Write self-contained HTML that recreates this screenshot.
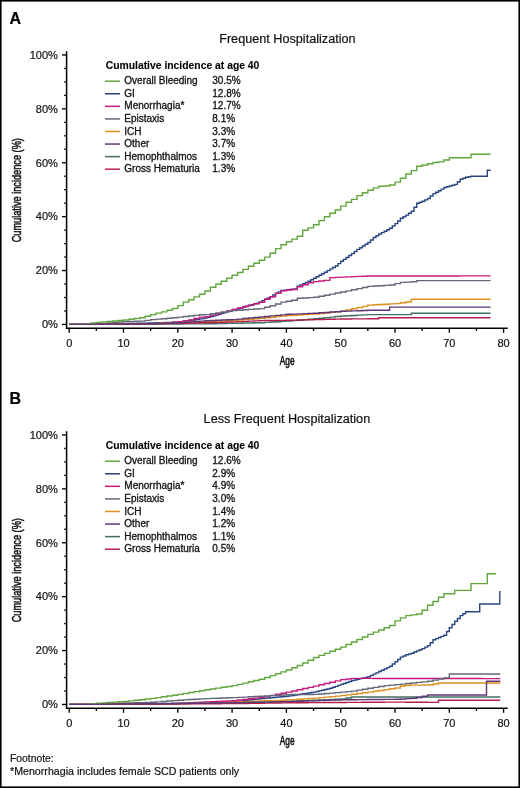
<!DOCTYPE html>
<html><head><meta charset="utf-8">
<style>
html,body{margin:0;padding:0;background:#fff;}
svg{display:block;will-change:transform;}
text{font-family:"Liberation Sans",sans-serif;fill:#111;stroke:#111;stroke-width:0.2px;}
.cond{stroke-width:0.55px;}
</style></head>
<body>
<svg width="520" height="788" viewBox="0 0 520 788">
<rect x="0" y="0" width="520" height="788" fill="#fff"/>
<text x="9.6" y="23.5" font-size="16" font-weight="bold" style="fill:#000;stroke:#000;stroke-width:0.2px">A</text>
<text x="219.2" y="43.2" font-size="12.65" textLength="136.4" lengthAdjust="spacingAndGlyphs">Frequent Hospitalization</text>
<line x1="66.6" y1="51.2" x2="66.6" y2="329" stroke="#000" stroke-width="1.5"/>
<line x1="65.9" y1="328.2" x2="507.7" y2="328.2" stroke="#000" stroke-width="1.5"/>
<line x1="62" y1="324.45" x2="66.6" y2="324.45" stroke="#000" stroke-width="1.35"/>
<text x="57.9" y="328.25" font-size="11" text-anchor="end">0%</text>
<line x1="64.2" y1="310.97" x2="66.6" y2="310.97" stroke="#000" stroke-width="1.35"/>
<line x1="64.2" y1="297.50" x2="66.6" y2="297.50" stroke="#000" stroke-width="1.35"/>
<line x1="64.2" y1="284.02" x2="66.6" y2="284.02" stroke="#000" stroke-width="1.35"/>
<line x1="62" y1="270.55" x2="66.6" y2="270.55" stroke="#000" stroke-width="1.35"/>
<text x="57.9" y="274.35" font-size="11" text-anchor="end">20%</text>
<line x1="64.2" y1="257.07" x2="66.6" y2="257.07" stroke="#000" stroke-width="1.35"/>
<line x1="64.2" y1="243.60" x2="66.6" y2="243.60" stroke="#000" stroke-width="1.35"/>
<line x1="64.2" y1="230.12" x2="66.6" y2="230.12" stroke="#000" stroke-width="1.35"/>
<line x1="62" y1="216.65" x2="66.6" y2="216.65" stroke="#000" stroke-width="1.35"/>
<text x="57.9" y="220.45" font-size="11" text-anchor="end">40%</text>
<line x1="64.2" y1="203.18" x2="66.6" y2="203.18" stroke="#000" stroke-width="1.35"/>
<line x1="64.2" y1="189.70" x2="66.6" y2="189.70" stroke="#000" stroke-width="1.35"/>
<line x1="64.2" y1="176.22" x2="66.6" y2="176.22" stroke="#000" stroke-width="1.35"/>
<line x1="62" y1="162.75" x2="66.6" y2="162.75" stroke="#000" stroke-width="1.35"/>
<text x="57.9" y="166.55" font-size="11" text-anchor="end">60%</text>
<line x1="64.2" y1="149.28" x2="66.6" y2="149.28" stroke="#000" stroke-width="1.35"/>
<line x1="64.2" y1="135.80" x2="66.6" y2="135.80" stroke="#000" stroke-width="1.35"/>
<line x1="64.2" y1="122.32" x2="66.6" y2="122.32" stroke="#000" stroke-width="1.35"/>
<line x1="62" y1="108.85" x2="66.6" y2="108.85" stroke="#000" stroke-width="1.35"/>
<text x="57.9" y="112.65" font-size="11" text-anchor="end">80%</text>
<line x1="64.2" y1="95.38" x2="66.6" y2="95.38" stroke="#000" stroke-width="1.35"/>
<line x1="64.2" y1="81.90" x2="66.6" y2="81.90" stroke="#000" stroke-width="1.35"/>
<line x1="64.2" y1="68.43" x2="66.6" y2="68.43" stroke="#000" stroke-width="1.35"/>
<line x1="62" y1="54.95" x2="66.6" y2="54.95" stroke="#000" stroke-width="1.35"/>
<text x="57.9" y="58.75" font-size="11" text-anchor="end">100%</text>
<line x1="69.20" y1="328.2" x2="69.20" y2="332.8" stroke="#000" stroke-width="1.35"/>
<text x="69.20" y="346.7" font-size="11" text-anchor="middle">0</text>
<line x1="96.35" y1="328.2" x2="96.35" y2="330.9" stroke="#000" stroke-width="1.35"/>
<line x1="123.50" y1="328.2" x2="123.50" y2="332.8" stroke="#000" stroke-width="1.35"/>
<text x="123.50" y="346.7" font-size="11" text-anchor="middle">10</text>
<line x1="150.65" y1="328.2" x2="150.65" y2="330.9" stroke="#000" stroke-width="1.35"/>
<line x1="177.80" y1="328.2" x2="177.80" y2="332.8" stroke="#000" stroke-width="1.35"/>
<text x="177.80" y="346.7" font-size="11" text-anchor="middle">20</text>
<line x1="204.95" y1="328.2" x2="204.95" y2="330.9" stroke="#000" stroke-width="1.35"/>
<line x1="232.10" y1="328.2" x2="232.10" y2="332.8" stroke="#000" stroke-width="1.35"/>
<text x="232.10" y="346.7" font-size="11" text-anchor="middle">30</text>
<line x1="259.25" y1="328.2" x2="259.25" y2="330.9" stroke="#000" stroke-width="1.35"/>
<line x1="286.40" y1="328.2" x2="286.40" y2="332.8" stroke="#000" stroke-width="1.35"/>
<text x="286.40" y="346.7" font-size="11" text-anchor="middle">40</text>
<line x1="313.55" y1="328.2" x2="313.55" y2="330.9" stroke="#000" stroke-width="1.35"/>
<line x1="340.70" y1="328.2" x2="340.70" y2="332.8" stroke="#000" stroke-width="1.35"/>
<text x="340.70" y="346.7" font-size="11" text-anchor="middle">50</text>
<line x1="367.85" y1="328.2" x2="367.85" y2="330.9" stroke="#000" stroke-width="1.35"/>
<line x1="395.00" y1="328.2" x2="395.00" y2="332.8" stroke="#000" stroke-width="1.35"/>
<text x="395.00" y="346.7" font-size="11" text-anchor="middle">60</text>
<line x1="422.15" y1="328.2" x2="422.15" y2="330.9" stroke="#000" stroke-width="1.35"/>
<line x1="449.30" y1="328.2" x2="449.30" y2="332.8" stroke="#000" stroke-width="1.35"/>
<text x="449.30" y="346.7" font-size="11" text-anchor="middle">70</text>
<line x1="476.45" y1="328.2" x2="476.45" y2="330.9" stroke="#000" stroke-width="1.35"/>
<line x1="503.60" y1="328.2" x2="503.60" y2="332.8" stroke="#000" stroke-width="1.35"/>
<text x="503.60" y="346.7" font-size="11" text-anchor="middle">80</text>
<text x="279.8" y="364.7" class="cond" font-size="12" textLength="14.7" lengthAdjust="spacingAndGlyphs">Age</text>
<text transform="translate(21.2,242.3) rotate(-90)" x="0" y="0" class="cond" font-size="13" textLength="104.2" lengthAdjust="spacingAndGlyphs">Cumulative incidence (%)</text>
<text x="105.7" y="68.6" font-size="10.3" font-weight="bold" style="fill:#000;stroke-width:0.1px" textLength="153.7" lengthAdjust="spacingAndGlyphs">Cumulative incidence at age 40</text>
<line x1="105" y1="81.20" x2="120" y2="81.20" stroke="#62a63e" stroke-width="1.5"/>
<text x="124.3" y="84.30" font-size="10" style="stroke-width:0.3px">Overall Bleeding</text>
<text x="212.3" y="84.30" font-size="10" style="stroke-width:0.3px">30.5%</text>
<line x1="105" y1="93.77" x2="120" y2="93.77" stroke="#2a4682" stroke-width="1.5"/>
<text x="124.3" y="96.87" font-size="10" style="stroke-width:0.3px">GI</text>
<text x="212.3" y="96.87" font-size="10" style="stroke-width:0.3px">12.8%</text>
<line x1="105" y1="106.34" x2="120" y2="106.34" stroke="#c8187f" stroke-width="1.5"/>
<text x="124.3" y="109.44" font-size="10" style="stroke-width:0.3px">Menorrhagia*</text>
<text x="212.3" y="109.44" font-size="10" style="stroke-width:0.3px">12.7%</text>
<line x1="105" y1="118.91" x2="120" y2="118.91" stroke="#626878" stroke-width="1.5"/>
<text x="124.3" y="122.01" font-size="10" style="stroke-width:0.3px">Epistaxis</text>
<text x="212.3" y="122.01" font-size="10" style="stroke-width:0.3px">8.1%</text>
<line x1="105" y1="131.48" x2="120" y2="131.48" stroke="#de8f1e" stroke-width="1.5"/>
<text x="124.3" y="134.58" font-size="10" style="stroke-width:0.3px">ICH</text>
<text x="212.3" y="134.58" font-size="10" style="stroke-width:0.3px">3.3%</text>
<line x1="105" y1="144.05" x2="120" y2="144.05" stroke="#5e3876" stroke-width="1.5"/>
<text x="124.3" y="147.15" font-size="10" style="stroke-width:0.3px">Other</text>
<text x="212.3" y="147.15" font-size="10" style="stroke-width:0.3px">3.7%</text>
<line x1="105" y1="156.62" x2="120" y2="156.62" stroke="#437060" stroke-width="1.5"/>
<text x="124.3" y="159.72" font-size="10" style="stroke-width:0.3px">Hemophthalmos</text>
<text x="212.3" y="159.72" font-size="10" style="stroke-width:0.3px">1.3%</text>
<line x1="105" y1="169.19" x2="120" y2="169.19" stroke="#b51f48" stroke-width="1.5"/>
<text x="124.3" y="172.29" font-size="10" style="stroke-width:0.3px">Gross Hematuria</text>
<text x="212.3" y="172.29" font-size="10" style="stroke-width:0.3px">1.3%</text>
<path d="M69.20,324.40 L71.92,324.40 L71.92,324.40 L74.63,324.40 L74.63,324.40 L77.34,324.40 L77.34,324.40 L80.06,324.40 L80.06,324.40 L82.78,324.40 L82.78,324.40 L85.49,324.40 L85.49,324.40 L88.20,324.40 L88.20,324.34 L90.92,324.34 L90.92,324.29 L93.64,324.29 L93.64,324.23 L96.35,324.23 L96.35,324.17 L99.06,324.17 L99.06,324.11 L101.78,324.11 L101.78,324.06 L104.50,324.06 L104.50,324.00 L107.21,324.00 L107.21,323.94 L109.92,323.94 L109.92,323.89 L112.64,323.89 L112.64,323.83 L115.36,323.83 L115.36,323.77 L118.07,323.77 L118.07,323.71 L120.78,323.71 L120.78,323.66 L123.50,323.66 L123.50,323.60 L126.22,323.60 L126.22,323.54 L128.93,323.54 L128.93,323.48 L131.64,323.48 L131.64,323.42 L134.36,323.42 L134.36,323.36 L137.07,323.36 L137.07,323.30 L139.79,323.30 L139.79,323.24 L142.50,323.24 L142.50,323.18 L145.22,323.18 L145.22,323.12 L147.94,323.12 L147.94,323.06 L150.65,323.06 L150.65,323.00 L153.37,323.00 L153.37,322.91 L156.08,322.91 L156.08,322.82 L158.80,322.82 L158.80,322.73 L161.51,322.73 L161.51,322.64 L164.22,322.64 L164.22,322.55 L166.94,322.55 L166.94,322.46 L169.66,322.46 L169.66,322.37 L172.37,322.37 L172.37,322.28 L175.08,322.28 L175.08,322.19 L177.80,322.19 L177.80,322.10 L180.51,322.10 L180.51,321.70 L183.23,321.70 L183.23,321.30 L185.94,321.30 L185.94,320.90 L188.66,320.90 L188.66,320.50 L191.38,320.50 L191.38,320.10 L194.09,320.10 L194.09,319.70 L196.81,319.70 L196.81,319.30 L199.52,319.30 L199.52,318.90 L202.24,318.90 L202.24,318.50 L204.95,318.50 L204.95,318.10 L207.67,318.10 L207.67,317.32 L210.38,317.32 L210.38,316.54 L213.09,316.54 L213.09,315.76 L215.81,315.76 L215.81,314.98 L218.52,314.98 L218.52,314.20 L221.24,314.20 L221.24,313.42 L223.95,313.42 L223.95,312.64 L226.67,312.64 L226.67,311.86 L229.38,311.86 L229.38,311.08 L232.10,311.08 L232.10,310.30 L234.81,310.30 L234.81,309.50 L237.53,309.50 L237.53,308.70 L240.25,308.70 L240.25,307.90 L242.96,307.90 L242.96,307.10 L245.68,307.10 L245.68,306.30 L248.39,306.30 L248.39,305.50 L251.11,305.50 L251.11,304.70 L253.82,304.70 L253.82,303.90 L256.53,303.90 L256.53,303.10 L259.25,303.10 L259.25,302.30 L261.96,302.30 L261.96,300.80 L264.68,300.80 L264.68,299.30 L267.39,299.30 L267.39,298.05 L270.11,298.05 L270.11,296.80 L272.82,296.80 L272.82,295.00 L275.54,295.00 L275.54,293.20 L278.25,293.20 L278.25,291.85 L280.97,291.85 L280.97,290.50 L283.69,290.50 L283.69,290.18 L286.40,290.18 L286.40,289.86 L289.12,289.86 L289.12,289.55 L291.83,289.55 L291.83,289.23 L294.55,289.23 L294.55,288.91 L297.26,288.91 L297.26,286.30 L299.97,286.30 L299.97,285.03 L302.69,285.03 L302.69,283.75 L305.40,283.75 L305.40,282.47 L308.12,282.47 L308.12,281.20 L310.83,281.20 L310.83,279.75 L313.55,279.75 L313.55,278.30 L316.26,278.30 L316.26,276.80 L318.98,276.80 L318.98,275.30 L321.69,275.30 L321.69,273.75 L324.41,273.75 L324.41,272.20 L327.12,272.20 L327.12,270.65 L329.84,270.65 L329.84,269.10 L332.55,269.10 L332.55,267.55 L335.27,267.55 L335.27,266.00 L337.98,266.00 L337.98,263.65 L340.70,263.65 L340.70,261.30 L343.41,261.30 L343.41,259.40 L346.13,259.40 L346.13,257.50 L348.84,257.50 L348.84,255.55 L351.56,255.55 L351.56,253.60 L354.27,253.60 L354.27,251.50 L356.99,251.50 L356.99,249.40 L359.70,249.40 L359.70,247.70 L362.42,247.70 L362.42,246.00 L365.13,246.00 L365.13,244.25 L367.85,244.25 L367.85,242.50 L370.56,242.50 L370.56,240.00 L373.28,240.00 L373.28,237.50 L375.99,237.50 L375.99,235.75 L378.71,235.75 L378.71,234.00 L381.42,234.00 L381.42,232.65 L384.14,232.65 L384.14,231.30 L386.85,231.30 L386.85,229.80 L389.57,229.80 L389.57,228.30 L392.28,228.30 L392.28,225.95 L395.00,225.95 L395.00,223.60 L397.71,223.60 L397.71,220.95 L400.43,220.95 L400.43,218.30 L403.14,218.30 L403.14,216.70 L405.86,216.70 L405.86,215.10 L408.57,215.10 L408.57,213.20 L411.29,213.20 L411.29,211.30 L414.00,211.30 L414.00,207.30 L416.72,207.30 L416.72,203.30 L419.43,203.30 L419.43,202.30 L422.15,202.30 L422.15,201.30 L424.86,201.30 L424.86,199.90 L427.58,199.90 L427.58,198.50 L430.29,198.50 L430.29,196.05 L433.01,196.05 L433.01,193.60 L435.72,193.60 L435.72,192.20 L438.44,192.20 L438.44,190.80 L441.15,190.80 L441.15,189.15 L443.87,189.15 L443.87,187.50 L446.58,187.50 L446.58,186.75 L449.30,186.75 L449.30,186.00 L452.01,186.00 L452.01,185.20 L454.73,185.20 L454.73,184.40 L457.44,184.40 L457.44,181.80 L460.16,181.80 L460.16,179.20 L462.87,179.20 L462.87,178.25 L465.59,178.25 L465.59,177.30 L468.30,177.30 L468.30,176.80 L471.02,176.80 L471.02,176.30 L473.73,176.30 L473.73,176.30 L476.45,176.30 L476.45,176.30 L479.16,176.30 L479.16,176.30 L481.88,176.30 L481.88,176.30 L484.59,176.30 L484.59,176.30 L487.31,176.30 L487.31,170.20 L490.02,170.20 L490.02,170.20 L490.57,170.20" fill="none" stroke="#2a4682" stroke-width="1.4" stroke-linejoin="miter"/>
<path d="M69.20,324.40 L74.63,324.40 L74.63,324.40 L80.06,324.40 L80.06,324.40 L85.49,324.40 L85.49,324.40 L90.92,324.40 L90.92,324.37 L96.35,324.37 L96.35,324.33 L101.78,324.33 L101.78,324.30 L107.21,324.30 L107.21,324.27 L112.64,324.27 L112.64,324.23 L118.07,324.23 L118.07,324.20 L123.50,324.20 L123.50,324.17 L128.93,324.17 L128.93,324.13 L134.36,324.13 L134.36,324.10 L139.79,324.10 L139.79,324.07 L145.22,324.07 L145.22,324.03 L150.65,324.03 L150.65,324.00 L156.08,324.00 L156.08,323.63 L161.51,323.63 L161.51,323.27 L166.94,323.27 L166.94,322.90 L172.37,322.90 L172.37,322.30 L177.80,322.30 L177.80,321.70 L183.23,321.70 L183.23,320.85 L188.66,320.85 L188.66,320.00 L194.09,320.00 L194.09,318.55 L199.52,318.55 L199.52,317.10 L204.95,317.10 L204.95,316.60 L210.38,316.60 L210.38,315.16 L215.81,315.16 L215.81,313.72 L221.24,313.72 L221.24,312.28 L226.67,312.28 L226.67,310.84 L232.10,310.84 L232.10,309.40 L237.53,309.40 L237.53,307.98 L242.96,307.98 L242.96,306.56 L248.39,306.56 L248.39,305.14 L253.82,305.14 L253.82,303.72 L259.25,303.72 L259.25,302.30 L264.68,302.30 L264.68,299.30 L270.11,299.30 L270.11,296.80 L275.54,296.80 L275.54,293.40 L280.97,293.40 L280.97,290.70 L286.40,290.70 L286.40,290.06 L291.83,290.06 L291.83,289.43 L297.26,289.43 L297.26,286.80 L302.69,286.80 L302.69,284.80 L308.12,284.80 L308.12,282.80 L313.55,282.80 L313.55,281.60 L318.98,281.60 L318.98,281.00 L324.41,281.00 L324.41,280.40 L329.84,280.40 L329.84,277.60 L335.27,277.60 L335.27,277.35 L340.70,277.35 L340.70,277.10 L346.13,277.10 L346.13,276.85 L351.56,276.85 L351.56,276.60 L356.99,276.60 L356.99,276.40 L362.42,276.40 L362.42,276.20 L367.85,276.20 L367.85,276.00 L373.28,276.00 L373.28,276.00 L378.71,276.00 L378.71,275.99 L384.14,275.99 L384.14,275.99 L389.57,275.99 L389.57,275.98 L395.00,275.98 L395.00,275.98 L400.43,275.98 L400.43,275.97 L405.86,275.97 L405.86,275.97 L411.29,275.97 L411.29,275.96 L416.72,275.96 L416.72,275.96 L422.15,275.96 L422.15,275.96 L427.58,275.96 L427.58,275.95 L433.01,275.95 L433.01,275.95 L438.44,275.95 L438.44,275.94 L443.87,275.94 L443.87,275.94 L449.30,275.94 L449.30,275.93 L454.73,275.93 L454.73,275.93 L460.16,275.93 L460.16,275.92 L465.59,275.92 L465.59,275.92 L471.02,275.92 L471.02,275.92 L476.45,275.92 L476.45,275.91 L481.88,275.91 L481.88,275.91 L487.31,275.91 L487.31,275.90 L490.57,275.90" fill="none" stroke="#c8187f" stroke-width="1.4" stroke-linejoin="miter"/>
<path d="M69.20,324.40 L74.63,324.40 L74.63,324.40 L80.06,324.40 L80.06,324.40 L85.49,324.40 L85.49,324.40 L90.92,324.40 L90.92,324.10 L96.35,324.10 L96.35,323.80 L101.78,323.80 L101.78,323.36 L107.21,323.36 L107.21,322.92 L112.64,322.92 L112.64,322.48 L118.07,322.48 L118.07,322.04 L123.50,322.04 L123.50,321.60 L128.93,321.60 L128.93,321.43 L134.36,321.43 L134.36,321.27 L139.79,321.27 L139.79,321.10 L145.22,321.10 L145.22,320.35 L150.65,320.35 L150.65,319.60 L156.08,319.60 L156.08,319.17 L161.51,319.17 L161.51,318.73 L166.94,318.73 L166.94,318.30 L172.37,318.30 L172.37,317.70 L177.80,317.70 L177.80,317.10 L183.23,317.10 L183.23,316.50 L188.66,316.50 L188.66,315.93 L194.09,315.93 L194.09,315.37 L199.52,315.37 L199.52,314.80 L204.95,314.80 L204.95,314.60 L210.38,314.60 L210.38,313.80 L215.81,313.80 L215.81,313.00 L221.24,313.00 L221.24,312.20 L226.67,312.20 L226.67,311.40 L232.10,311.40 L232.10,310.60 L237.53,310.60 L237.53,310.20 L242.96,310.20 L242.96,309.80 L248.39,309.80 L248.39,309.40 L253.82,309.40 L253.82,309.00 L259.25,309.00 L259.25,308.60 L264.68,308.60 L264.68,307.20 L270.11,307.20 L270.11,305.80 L275.54,305.80 L275.54,303.95 L280.97,303.95 L280.97,302.10 L286.40,302.10 L286.40,301.20 L291.83,301.20 L291.83,300.30 L297.26,300.30 L297.26,298.30 L302.69,298.30 L302.69,297.97 L308.12,297.97 L308.12,297.63 L313.55,297.63 L313.55,297.30 L318.98,297.30 L318.98,296.24 L324.41,296.24 L324.41,295.18 L329.84,295.18 L329.84,294.12 L335.27,294.12 L335.27,293.06 L340.70,293.06 L340.70,292.00 L346.13,292.00 L346.13,290.88 L351.56,290.88 L351.56,289.76 L356.99,289.76 L356.99,288.64 L362.42,288.64 L362.42,287.52 L367.85,287.52 L367.85,286.40 L373.28,286.40 L373.28,286.05 L378.71,286.05 L378.71,285.70 L384.14,285.70 L384.14,285.35 L389.57,285.35 L389.57,285.00 L395.00,285.00 L395.00,283.60 L400.43,283.60 L400.43,282.40 L405.86,282.40 L405.86,282.10 L411.29,282.10 L411.29,281.80 L416.72,281.80 L416.72,280.60 L422.15,280.60 L422.15,280.60 L427.58,280.60 L427.58,280.60 L433.01,280.60 L433.01,280.60 L438.44,280.60 L438.44,280.60 L443.87,280.60 L443.87,280.60 L449.30,280.60 L449.30,280.60 L454.73,280.60 L454.73,280.60 L460.16,280.60 L460.16,280.60 L465.59,280.60 L465.59,280.60 L471.02,280.60 L471.02,280.60 L476.45,280.60 L476.45,280.60 L481.88,280.60 L481.88,280.60 L487.31,280.60 L487.31,280.60 L490.57,280.60" fill="none" stroke="#626878" stroke-width="1.4" stroke-linejoin="miter"/>
<path d="M69.20,324.40 L74.63,324.40 L74.63,324.40 L80.06,324.40 L80.06,324.40 L85.49,324.40 L85.49,324.40 L90.92,324.40 L90.92,324.33 L96.35,324.33 L96.35,324.27 L101.78,324.27 L101.78,324.20 L107.21,324.20 L107.21,324.13 L112.64,324.13 L112.64,324.07 L118.07,324.07 L118.07,324.00 L123.50,324.00 L123.50,323.93 L128.93,323.93 L128.93,323.87 L134.36,323.87 L134.36,323.80 L139.79,323.80 L139.79,323.73 L145.22,323.73 L145.22,323.67 L150.65,323.67 L150.65,323.60 L156.08,323.60 L156.08,323.44 L161.51,323.44 L161.51,323.28 L166.94,323.28 L166.94,323.12 L172.37,323.12 L172.37,322.96 L177.80,322.96 L177.80,322.80 L183.23,322.80 L183.23,322.54 L188.66,322.54 L188.66,322.28 L194.09,322.28 L194.09,322.02 L199.52,322.02 L199.52,321.76 L204.95,321.76 L204.95,321.50 L210.38,321.50 L210.38,321.28 L215.81,321.28 L215.81,321.06 L221.24,321.06 L221.24,320.84 L226.67,320.84 L226.67,320.62 L232.10,320.62 L232.10,320.40 L237.53,320.40 L237.53,320.00 L242.96,320.00 L242.96,319.60 L248.39,319.60 L248.39,319.20 L253.82,319.20 L253.82,318.80 L259.25,318.80 L259.25,318.40 L264.68,318.40 L264.68,317.82 L270.11,317.82 L270.11,317.24 L275.54,317.24 L275.54,316.66 L280.97,316.66 L280.97,316.08 L286.40,316.08 L286.40,315.50 L291.83,315.50 L291.83,315.22 L297.26,315.22 L297.26,314.94 L302.69,314.94 L302.69,314.66 L308.12,314.66 L308.12,314.38 L313.55,314.38 L313.55,314.10 L318.98,314.10 L318.98,313.54 L324.41,313.54 L324.41,312.98 L329.84,312.98 L329.84,312.42 L335.27,312.42 L335.27,311.86 L340.70,311.86 L340.70,311.30 L346.13,311.30 L346.13,310.06 L351.56,310.06 L351.56,308.82 L356.99,308.82 L356.99,307.58 L362.42,307.58 L362.42,306.34 L367.85,306.34 L367.85,305.10 L373.28,305.10 L373.28,304.80 L378.71,304.80 L378.71,304.50 L384.14,304.50 L384.14,304.20 L389.57,304.20 L389.57,303.90 L395.00,303.90 L395.00,303.60 L400.43,303.60 L400.43,302.80 L405.86,302.80 L405.86,302.00 L411.29,302.00 L411.29,299.30 L416.72,299.30 L416.72,299.30 L422.15,299.30 L422.15,299.30 L427.58,299.30 L427.58,299.30 L433.01,299.30 L433.01,299.30 L438.44,299.30 L438.44,299.30 L443.87,299.30 L443.87,299.30 L449.30,299.30 L449.30,299.30 L454.73,299.30 L454.73,299.30 L460.16,299.30 L460.16,299.30 L465.59,299.30 L465.59,299.30 L471.02,299.30 L471.02,299.30 L476.45,299.30 L476.45,299.30 L481.88,299.30 L481.88,299.30 L487.31,299.30 L487.31,299.30 L490.57,299.30" fill="none" stroke="#de8f1e" stroke-width="1.4" stroke-linejoin="miter"/>
<path d="M69.20,324.40 L74.63,324.40 L74.63,324.40 L80.06,324.40 L80.06,324.40 L85.49,324.40 L85.49,324.40 L90.92,324.40 L90.92,324.37 L96.35,324.37 L96.35,324.35 L101.78,324.35 L101.78,324.32 L107.21,324.32 L107.21,324.29 L112.64,324.29 L112.64,324.26 L118.07,324.26 L118.07,324.24 L123.50,324.24 L123.50,324.21 L128.93,324.21 L128.93,324.18 L134.36,324.18 L134.36,324.15 L139.79,324.15 L139.79,324.13 L145.22,324.13 L145.22,324.10 L150.65,324.10 L150.65,324.07 L156.08,324.07 L156.08,324.05 L161.51,324.05 L161.51,324.02 L166.94,324.02 L166.94,323.99 L172.37,323.99 L172.37,323.96 L177.80,323.96 L177.80,323.94 L183.23,323.94 L183.23,323.91 L188.66,323.91 L188.66,323.88 L194.09,323.88 L194.09,323.85 L199.52,323.85 L199.52,323.83 L204.95,323.83 L204.95,323.80 L210.38,323.80 L210.38,323.70 L215.81,323.70 L215.81,323.60 L221.24,323.60 L221.24,323.50 L226.67,323.50 L226.67,323.40 L232.10,323.40 L232.10,323.30 L237.53,323.30 L237.53,323.18 L242.96,323.18 L242.96,323.06 L248.39,323.06 L248.39,322.94 L253.82,322.94 L253.82,322.82 L259.25,322.82 L259.25,322.70 L264.68,322.70 L264.68,322.38 L270.11,322.38 L270.11,322.06 L275.54,322.06 L275.54,321.74 L280.97,321.74 L280.97,321.42 L286.40,321.42 L286.40,321.10 L291.83,321.10 L291.83,320.64 L297.26,320.64 L297.26,320.18 L302.69,320.18 L302.69,319.72 L308.12,319.72 L308.12,319.26 L313.55,319.26 L313.55,318.80 L318.98,318.80 L318.98,318.24 L324.41,318.24 L324.41,317.68 L329.84,317.68 L329.84,317.12 L335.27,317.12 L335.27,316.56 L340.70,316.56 L340.70,316.00 L346.13,316.00 L346.13,315.72 L351.56,315.72 L351.56,315.44 L356.99,315.44 L356.99,315.16 L362.42,315.16 L362.42,314.88 L367.85,314.88 L367.85,314.60 L373.28,314.60 L373.28,314.60 L378.71,314.60 L378.71,314.60 L384.14,314.60 L384.14,314.60 L389.57,314.60 L389.57,314.60 L395.00,314.60 L395.00,314.60 L400.43,314.60 L400.43,314.60 L405.86,314.60 L405.86,314.60 L411.29,314.60 L411.29,313.30 L416.72,313.30 L416.72,313.30 L422.15,313.30 L422.15,313.30 L427.58,313.30 L427.58,313.30 L433.01,313.30 L433.01,313.30 L438.44,313.30 L438.44,313.30 L443.87,313.30 L443.87,313.30 L449.30,313.30 L449.30,313.30 L454.73,313.30 L454.73,313.30 L460.16,313.30 L460.16,313.30 L465.59,313.30 L465.59,313.30 L471.02,313.30 L471.02,313.30 L476.45,313.30 L476.45,313.30 L481.88,313.30 L481.88,313.30 L487.31,313.30 L487.31,313.30 L490.57,313.30" fill="none" stroke="#437060" stroke-width="1.4" stroke-linejoin="miter"/>
<path d="M69.20,324.40 L74.63,324.40 L74.63,324.40 L80.06,324.40 L80.06,324.40 L85.49,324.40 L85.49,324.40 L90.92,324.40 L90.92,324.34 L96.35,324.34 L96.35,324.27 L101.78,324.27 L101.78,324.21 L107.21,324.21 L107.21,324.14 L112.64,324.14 L112.64,324.08 L118.07,324.08 L118.07,324.01 L123.50,324.01 L123.50,323.95 L128.93,323.95 L128.93,323.88 L134.36,323.88 L134.36,323.82 L139.79,323.82 L139.79,323.75 L145.22,323.75 L145.22,323.69 L150.65,323.69 L150.65,323.62 L156.08,323.62 L156.08,323.56 L161.51,323.56 L161.51,323.49 L166.94,323.49 L166.94,323.43 L172.37,323.43 L172.37,323.36 L177.80,323.36 L177.80,323.30 L183.23,323.30 L183.23,323.18 L188.66,323.18 L188.66,323.06 L194.09,323.06 L194.09,322.94 L199.52,322.94 L199.52,322.82 L204.95,322.82 L204.95,322.70 L210.38,322.70 L210.38,322.54 L215.81,322.54 L215.81,322.38 L221.24,322.38 L221.24,322.22 L226.67,322.22 L226.67,322.06 L232.10,322.06 L232.10,321.90 L237.53,321.90 L237.53,321.64 L242.96,321.64 L242.96,321.38 L248.39,321.38 L248.39,321.12 L253.82,321.12 L253.82,320.86 L259.25,320.86 L259.25,320.60 L264.68,320.60 L264.68,320.54 L270.11,320.54 L270.11,320.48 L275.54,320.48 L275.54,320.42 L280.97,320.42 L280.97,320.36 L286.40,320.36 L286.40,320.30 L291.83,320.30 L291.83,320.16 L297.26,320.16 L297.26,320.02 L302.69,320.02 L302.69,319.88 L308.12,319.88 L308.12,319.74 L313.55,319.74 L313.55,319.60 L318.98,319.60 L318.98,319.48 L324.41,319.48 L324.41,319.36 L329.84,319.36 L329.84,319.24 L335.27,319.24 L335.27,319.12 L340.70,319.12 L340.70,319.00 L346.13,319.00 L346.13,318.96 L351.56,318.96 L351.56,318.91 L356.99,318.91 L356.99,318.87 L362.42,318.87 L362.42,318.83 L367.85,318.83 L367.85,318.79 L373.28,318.79 L373.28,318.74 L378.71,318.74 L378.71,317.70 L384.14,317.70 L384.14,317.70 L389.57,317.70 L389.57,317.70 L395.00,317.70 L395.00,317.70 L400.43,317.70 L400.43,317.70 L405.86,317.70 L405.86,317.70 L411.29,317.70 L411.29,317.70 L416.72,317.70 L416.72,317.70 L422.15,317.70 L422.15,317.70 L427.58,317.70 L427.58,317.70 L433.01,317.70 L433.01,317.70 L438.44,317.70 L438.44,317.70 L443.87,317.70 L443.87,317.70 L449.30,317.70 L449.30,317.70 L454.73,317.70 L454.73,317.70 L460.16,317.70 L460.16,317.70 L465.59,317.70 L465.59,317.70 L471.02,317.70 L471.02,317.70 L476.45,317.70 L476.45,317.70 L481.88,317.70 L481.88,317.70 L487.31,317.70 L487.31,317.70 L490.57,317.70" fill="none" stroke="#b51f48" stroke-width="1.4" stroke-linejoin="miter"/>
<path d="M69.20,324.40 L74.63,324.40 L74.63,324.40 L80.06,324.40 L80.06,324.40 L85.49,324.40 L85.49,324.40 L90.92,324.40 L90.92,323.00 L96.35,323.00 L96.35,322.40 L101.78,322.40 L101.78,321.92 L107.21,321.92 L107.21,321.44 L112.64,321.44 L112.64,320.96 L118.07,320.96 L118.07,320.48 L123.50,320.48 L123.50,320.00 L128.93,320.00 L128.93,319.23 L134.36,319.23 L134.36,318.47 L139.79,318.47 L139.79,317.70 L145.22,317.70 L145.22,316.20 L150.65,316.20 L150.65,314.60 L156.08,314.60 L156.08,313.10 L161.51,313.10 L161.51,311.90 L166.94,311.90 L166.94,310.20 L172.37,310.20 L172.37,308.50 L177.80,308.50 L177.80,305.60 L183.23,305.60 L183.23,302.10 L188.66,302.10 L188.66,299.80 L194.09,299.80 L194.09,296.90 L199.52,296.90 L199.52,294.20 L204.95,294.20 L204.95,291.00 L210.38,291.00 L210.38,287.30 L215.81,287.30 L215.81,284.30 L221.24,284.30 L221.24,281.30 L226.67,281.30 L226.67,278.30 L232.10,278.30 L232.10,275.20 L237.53,275.20 L237.53,272.50 L242.96,272.50 L242.96,269.40 L248.39,269.40 L248.39,266.30 L253.82,266.30 L253.82,263.30 L259.25,263.30 L259.25,260.20 L264.68,260.20 L264.68,257.10 L270.11,257.10 L270.11,253.30 L275.54,253.30 L275.54,248.60 L280.97,248.60 L280.97,244.80 L286.40,244.80 L286.40,241.70 L291.83,241.70 L291.83,239.10 L297.26,239.10 L297.26,236.30 L302.69,236.30 L302.69,230.20 L308.12,230.20 L308.12,227.90 L313.55,227.90 L313.55,224.80 L318.98,224.80 L318.98,220.60 L324.41,220.60 L324.41,216.70 L329.84,216.70 L329.84,213.30 L335.27,213.30 L335.27,210.00 L340.70,210.00 L340.70,206.10 L346.13,206.10 L346.13,202.30 L351.56,202.30 L351.56,199.40 L356.99,199.40 L356.99,195.60 L362.42,195.60 L362.42,192.70 L367.85,192.70 L367.85,190.20 L373.28,190.20 L373.28,187.90 L378.71,187.90 L378.71,186.30 L384.14,186.30 L384.14,186.00 L389.57,186.00 L389.57,185.00 L395.00,185.00 L395.00,182.10 L400.43,182.10 L400.43,178.30 L405.86,178.30 L405.86,174.00 L411.29,174.00 L411.29,170.60 L416.72,170.60 L416.72,166.30 L422.15,166.30 L422.15,165.05 L427.58,165.05 L427.58,163.80 L433.01,163.80 L433.01,162.50 L438.44,162.50 L438.44,161.90 L443.87,161.90 L443.87,160.00 L449.30,160.00 L449.30,157.70 L454.73,157.70 L454.73,157.70 L460.16,157.70 L460.16,157.70 L465.59,157.70 L465.59,157.70 L471.02,157.70 L471.02,154.20 L476.45,154.20 L476.45,154.20 L481.88,154.20 L481.88,154.20 L487.31,154.20 L487.31,154.20 L490.57,154.20" fill="none" stroke="#62a63e" stroke-width="1.4" stroke-linejoin="miter"/>
<path d="M69.20,324.40 L74.63,324.40 L74.63,324.40 L80.06,324.40 L80.06,324.40 L85.49,324.40 L85.49,324.40 L90.92,324.40 L90.92,324.35 L96.35,324.35 L96.35,324.30 L101.78,324.30 L101.78,324.25 L107.21,324.25 L107.21,324.20 L112.64,324.20 L112.64,324.15 L118.07,324.15 L118.07,324.10 L123.50,324.10 L123.50,324.05 L128.93,324.05 L128.93,324.00 L134.36,324.00 L134.36,323.95 L139.79,323.95 L139.79,323.90 L145.22,323.90 L145.22,323.85 L150.65,323.85 L150.65,323.80 L156.08,323.80 L156.08,323.60 L161.51,323.60 L161.51,323.40 L166.94,323.40 L166.94,323.20 L172.37,323.20 L172.37,323.00 L177.80,323.00 L177.80,322.80 L183.23,322.80 L183.23,322.38 L188.66,322.38 L188.66,321.96 L194.09,321.96 L194.09,321.54 L199.52,321.54 L199.52,321.12 L204.95,321.12 L204.95,320.70 L210.38,320.70 L210.38,320.48 L215.81,320.48 L215.81,320.26 L221.24,320.26 L221.24,320.04 L226.67,320.04 L226.67,319.82 L232.10,319.82 L232.10,319.60 L237.53,319.60 L237.53,319.08 L242.96,319.08 L242.96,318.56 L248.39,318.56 L248.39,318.04 L253.82,318.04 L253.82,317.52 L259.25,317.52 L259.25,317.00 L264.68,317.00 L264.68,316.46 L270.11,316.46 L270.11,315.92 L275.54,315.92 L275.54,315.38 L280.97,315.38 L280.97,314.84 L286.40,314.84 L286.40,314.30 L291.83,314.30 L291.83,314.08 L297.26,314.08 L297.26,313.86 L302.69,313.86 L302.69,313.64 L308.12,313.64 L308.12,313.42 L313.55,313.42 L313.55,313.20 L318.98,313.20 L318.98,312.82 L324.41,312.82 L324.41,312.44 L329.84,312.44 L329.84,312.06 L335.27,312.06 L335.27,311.68 L340.70,311.68 L340.70,311.30 L346.13,311.30 L346.13,311.10 L351.56,311.10 L351.56,310.90 L356.99,310.90 L356.99,310.70 L362.42,310.70 L362.42,310.50 L367.85,310.50 L367.85,310.30 L373.28,310.30 L373.28,310.30 L378.71,310.30 L378.71,310.30 L384.14,310.30 L384.14,310.30 L389.57,310.30 L389.57,307.10 L395.00,307.10 L395.00,307.10 L400.43,307.10 L400.43,307.10 L405.86,307.10 L405.86,307.10 L411.29,307.10 L411.29,307.10 L416.72,307.10 L416.72,307.10 L422.15,307.10 L422.15,307.10 L427.58,307.10 L427.58,307.10 L433.01,307.10 L433.01,307.10 L438.44,307.10 L438.44,307.10 L443.87,307.10 L443.87,307.10 L449.30,307.10 L449.30,307.10 L454.73,307.10 L454.73,307.10 L460.16,307.10 L460.16,307.10 L465.59,307.10 L465.59,307.10 L471.02,307.10 L471.02,307.10 L476.45,307.10 L476.45,307.10 L481.88,307.10 L481.88,307.10 L487.31,307.10 L487.31,307.10 L490.57,307.10" fill="none" stroke="#5e3876" stroke-width="1.4" stroke-linejoin="miter"/>
<text x="9.6" y="403.5" font-size="16" font-weight="bold" style="fill:#000;stroke:#000;stroke-width:0.2px">B</text>
<text x="203.6" y="423.2" font-size="12.65" textLength="166.6" lengthAdjust="spacingAndGlyphs">Less Frequent Hospitalization</text>
<line x1="66.6" y1="431.2" x2="66.6" y2="709" stroke="#000" stroke-width="1.5"/>
<line x1="65.9" y1="708.2" x2="507.7" y2="708.2" stroke="#000" stroke-width="1.5"/>
<line x1="62" y1="704.45" x2="66.6" y2="704.45" stroke="#000" stroke-width="1.35"/>
<text x="57.9" y="708.25" font-size="11" text-anchor="end">0%</text>
<line x1="64.2" y1="690.98" x2="66.6" y2="690.98" stroke="#000" stroke-width="1.35"/>
<line x1="64.2" y1="677.50" x2="66.6" y2="677.50" stroke="#000" stroke-width="1.35"/>
<line x1="64.2" y1="664.03" x2="66.6" y2="664.03" stroke="#000" stroke-width="1.35"/>
<line x1="62" y1="650.55" x2="66.6" y2="650.55" stroke="#000" stroke-width="1.35"/>
<text x="57.9" y="654.35" font-size="11" text-anchor="end">20%</text>
<line x1="64.2" y1="637.08" x2="66.6" y2="637.08" stroke="#000" stroke-width="1.35"/>
<line x1="64.2" y1="623.60" x2="66.6" y2="623.60" stroke="#000" stroke-width="1.35"/>
<line x1="64.2" y1="610.12" x2="66.6" y2="610.12" stroke="#000" stroke-width="1.35"/>
<line x1="62" y1="596.65" x2="66.6" y2="596.65" stroke="#000" stroke-width="1.35"/>
<text x="57.9" y="600.45" font-size="11" text-anchor="end">40%</text>
<line x1="64.2" y1="583.18" x2="66.6" y2="583.18" stroke="#000" stroke-width="1.35"/>
<line x1="64.2" y1="569.70" x2="66.6" y2="569.70" stroke="#000" stroke-width="1.35"/>
<line x1="64.2" y1="556.23" x2="66.6" y2="556.23" stroke="#000" stroke-width="1.35"/>
<line x1="62" y1="542.75" x2="66.6" y2="542.75" stroke="#000" stroke-width="1.35"/>
<text x="57.9" y="546.55" font-size="11" text-anchor="end">60%</text>
<line x1="64.2" y1="529.28" x2="66.6" y2="529.28" stroke="#000" stroke-width="1.35"/>
<line x1="64.2" y1="515.80" x2="66.6" y2="515.80" stroke="#000" stroke-width="1.35"/>
<line x1="64.2" y1="502.33" x2="66.6" y2="502.33" stroke="#000" stroke-width="1.35"/>
<line x1="62" y1="488.85" x2="66.6" y2="488.85" stroke="#000" stroke-width="1.35"/>
<text x="57.9" y="492.65" font-size="11" text-anchor="end">80%</text>
<line x1="64.2" y1="475.38" x2="66.6" y2="475.38" stroke="#000" stroke-width="1.35"/>
<line x1="64.2" y1="461.90" x2="66.6" y2="461.90" stroke="#000" stroke-width="1.35"/>
<line x1="64.2" y1="448.43" x2="66.6" y2="448.43" stroke="#000" stroke-width="1.35"/>
<line x1="62" y1="434.95" x2="66.6" y2="434.95" stroke="#000" stroke-width="1.35"/>
<text x="57.9" y="438.75" font-size="11" text-anchor="end">100%</text>
<line x1="69.20" y1="708.2" x2="69.20" y2="712.8" stroke="#000" stroke-width="1.35"/>
<text x="69.20" y="726.7" font-size="11" text-anchor="middle">0</text>
<line x1="96.35" y1="708.2" x2="96.35" y2="710.9" stroke="#000" stroke-width="1.35"/>
<line x1="123.50" y1="708.2" x2="123.50" y2="712.8" stroke="#000" stroke-width="1.35"/>
<text x="123.50" y="726.7" font-size="11" text-anchor="middle">10</text>
<line x1="150.65" y1="708.2" x2="150.65" y2="710.9" stroke="#000" stroke-width="1.35"/>
<line x1="177.80" y1="708.2" x2="177.80" y2="712.8" stroke="#000" stroke-width="1.35"/>
<text x="177.80" y="726.7" font-size="11" text-anchor="middle">20</text>
<line x1="204.95" y1="708.2" x2="204.95" y2="710.9" stroke="#000" stroke-width="1.35"/>
<line x1="232.10" y1="708.2" x2="232.10" y2="712.8" stroke="#000" stroke-width="1.35"/>
<text x="232.10" y="726.7" font-size="11" text-anchor="middle">30</text>
<line x1="259.25" y1="708.2" x2="259.25" y2="710.9" stroke="#000" stroke-width="1.35"/>
<line x1="286.40" y1="708.2" x2="286.40" y2="712.8" stroke="#000" stroke-width="1.35"/>
<text x="286.40" y="726.7" font-size="11" text-anchor="middle">40</text>
<line x1="313.55" y1="708.2" x2="313.55" y2="710.9" stroke="#000" stroke-width="1.35"/>
<line x1="340.70" y1="708.2" x2="340.70" y2="712.8" stroke="#000" stroke-width="1.35"/>
<text x="340.70" y="726.7" font-size="11" text-anchor="middle">50</text>
<line x1="367.85" y1="708.2" x2="367.85" y2="710.9" stroke="#000" stroke-width="1.35"/>
<line x1="395.00" y1="708.2" x2="395.00" y2="712.8" stroke="#000" stroke-width="1.35"/>
<text x="395.00" y="726.7" font-size="11" text-anchor="middle">60</text>
<line x1="422.15" y1="708.2" x2="422.15" y2="710.9" stroke="#000" stroke-width="1.35"/>
<line x1="449.30" y1="708.2" x2="449.30" y2="712.8" stroke="#000" stroke-width="1.35"/>
<text x="449.30" y="726.7" font-size="11" text-anchor="middle">70</text>
<line x1="476.45" y1="708.2" x2="476.45" y2="710.9" stroke="#000" stroke-width="1.35"/>
<line x1="503.60" y1="708.2" x2="503.60" y2="712.8" stroke="#000" stroke-width="1.35"/>
<text x="503.60" y="726.7" font-size="11" text-anchor="middle">80</text>
<text x="279.8" y="744.7" class="cond" font-size="12" textLength="14.7" lengthAdjust="spacingAndGlyphs">Age</text>
<text transform="translate(21.2,622.3) rotate(-90)" x="0" y="0" class="cond" font-size="13" textLength="104.2" lengthAdjust="spacingAndGlyphs">Cumulative incidence (%)</text>
<text x="105.7" y="448.6" font-size="10.3" font-weight="bold" style="fill:#000;stroke-width:0.1px" textLength="153.7" lengthAdjust="spacingAndGlyphs">Cumulative incidence at age 40</text>
<line x1="105" y1="461.20" x2="120" y2="461.20" stroke="#62a63e" stroke-width="1.5"/>
<text x="124.3" y="464.30" font-size="10" style="stroke-width:0.3px">Overall Bleeding</text>
<text x="212.3" y="464.30" font-size="10" style="stroke-width:0.3px">12.6%</text>
<line x1="105" y1="473.77" x2="120" y2="473.77" stroke="#2a4682" stroke-width="1.5"/>
<text x="124.3" y="476.87" font-size="10" style="stroke-width:0.3px">GI</text>
<text x="212.3" y="476.87" font-size="10" style="stroke-width:0.3px">2.9%</text>
<line x1="105" y1="486.34" x2="120" y2="486.34" stroke="#c8187f" stroke-width="1.5"/>
<text x="124.3" y="489.44" font-size="10" style="stroke-width:0.3px">Menorrhagia*</text>
<text x="212.3" y="489.44" font-size="10" style="stroke-width:0.3px">4.9%</text>
<line x1="105" y1="498.91" x2="120" y2="498.91" stroke="#626878" stroke-width="1.5"/>
<text x="124.3" y="502.01" font-size="10" style="stroke-width:0.3px">Epistaxis</text>
<text x="212.3" y="502.01" font-size="10" style="stroke-width:0.3px">3.0%</text>
<line x1="105" y1="511.48" x2="120" y2="511.48" stroke="#de8f1e" stroke-width="1.5"/>
<text x="124.3" y="514.58" font-size="10" style="stroke-width:0.3px">ICH</text>
<text x="212.3" y="514.58" font-size="10" style="stroke-width:0.3px">1.4%</text>
<line x1="105" y1="524.05" x2="120" y2="524.05" stroke="#5e3876" stroke-width="1.5"/>
<text x="124.3" y="527.15" font-size="10" style="stroke-width:0.3px">Other</text>
<text x="212.3" y="527.15" font-size="10" style="stroke-width:0.3px">1.2%</text>
<line x1="105" y1="536.62" x2="120" y2="536.62" stroke="#437060" stroke-width="1.5"/>
<text x="124.3" y="539.72" font-size="10" style="stroke-width:0.3px">Hemophthalmos</text>
<text x="212.3" y="539.72" font-size="10" style="stroke-width:0.3px">1.1%</text>
<line x1="105" y1="549.19" x2="120" y2="549.19" stroke="#b51f48" stroke-width="1.5"/>
<text x="124.3" y="552.29" font-size="10" style="stroke-width:0.3px">Gross Hematuria</text>
<text x="212.3" y="552.29" font-size="10" style="stroke-width:0.3px">0.5%</text>
<path d="M69.20,704.40 L71.92,704.40 L71.92,704.40 L74.63,704.40 L74.63,704.40 L77.34,704.40 L77.34,704.40 L80.06,704.40 L80.06,704.40 L82.78,704.40 L82.78,704.40 L85.49,704.40 L85.49,704.40 L88.20,704.40 L88.20,704.38 L90.92,704.38 L90.92,704.36 L93.64,704.36 L93.64,704.35 L96.35,704.35 L96.35,704.33 L99.06,704.33 L99.06,704.31 L101.78,704.31 L101.78,704.29 L104.50,704.29 L104.50,704.28 L107.21,704.28 L107.21,704.26 L109.92,704.26 L109.92,704.24 L112.64,704.24 L112.64,704.22 L115.36,704.22 L115.36,704.21 L118.07,704.21 L118.07,704.19 L120.78,704.19 L120.78,704.17 L123.50,704.17 L123.50,704.15 L126.22,704.15 L126.22,704.14 L128.93,704.14 L128.93,704.12 L131.64,704.12 L131.64,704.10 L134.36,704.10 L134.36,704.08 L137.07,704.08 L137.07,704.06 L139.79,704.06 L139.79,704.05 L142.50,704.05 L142.50,704.03 L145.22,704.03 L145.22,704.01 L147.94,704.01 L147.94,703.99 L150.65,703.99 L150.65,703.98 L153.37,703.98 L153.37,703.96 L156.08,703.96 L156.08,703.94 L158.80,703.94 L158.80,703.92 L161.51,703.92 L161.51,703.91 L164.22,703.91 L164.22,703.89 L166.94,703.89 L166.94,703.87 L169.66,703.87 L169.66,703.85 L172.37,703.85 L172.37,703.84 L175.08,703.84 L175.08,703.82 L177.80,703.82 L177.80,703.80 L180.51,703.80 L180.51,703.70 L183.23,703.70 L183.23,703.60 L185.94,703.60 L185.94,703.50 L188.66,703.50 L188.66,703.40 L191.38,703.40 L191.38,703.30 L194.09,703.30 L194.09,703.20 L196.81,703.20 L196.81,703.10 L199.52,703.10 L199.52,703.00 L202.24,703.00 L202.24,702.90 L204.95,702.90 L204.95,702.80 L207.67,702.80 L207.67,702.70 L210.38,702.70 L210.38,702.60 L213.09,702.60 L213.09,702.50 L215.81,702.50 L215.81,702.40 L218.52,702.40 L218.52,702.30 L221.24,702.30 L221.24,702.20 L223.95,702.20 L223.95,702.10 L226.67,702.10 L226.67,702.00 L229.38,702.00 L229.38,701.90 L232.10,701.90 L232.10,701.80 L234.81,701.80 L234.81,701.50 L237.53,701.50 L237.53,701.20 L240.25,701.20 L240.25,700.90 L242.96,700.90 L242.96,700.60 L245.68,700.60 L245.68,700.30 L248.39,700.30 L248.39,700.00 L251.11,700.00 L251.11,699.70 L253.82,699.70 L253.82,699.40 L256.53,699.40 L256.53,699.10 L259.25,699.10 L259.25,698.80 L261.96,698.80 L261.96,698.55 L264.68,698.55 L264.68,698.30 L267.39,698.30 L267.39,698.05 L270.11,698.05 L270.11,697.80 L272.82,697.80 L272.82,697.55 L275.54,697.55 L275.54,697.30 L278.25,697.30 L278.25,697.05 L280.97,697.05 L280.97,696.80 L283.69,696.80 L283.69,696.55 L286.40,696.55 L286.40,696.30 L289.12,696.30 L289.12,695.88 L291.83,695.88 L291.83,695.46 L294.55,695.46 L294.55,695.04 L297.26,695.04 L297.26,694.62 L299.97,694.62 L299.97,694.20 L302.69,694.20 L302.69,693.78 L305.40,693.78 L305.40,693.36 L308.12,693.36 L308.12,692.94 L310.83,692.94 L310.83,692.52 L313.55,692.52 L313.55,692.10 L316.26,692.10 L316.26,691.47 L318.98,691.47 L318.98,690.83 L321.69,690.83 L321.69,690.20 L324.41,690.20 L324.41,689.57 L327.12,689.57 L327.12,688.93 L329.84,688.93 L329.84,688.30 L332.55,688.30 L332.55,687.32 L335.27,687.32 L335.27,686.35 L337.98,686.35 L337.98,685.38 L340.70,685.38 L340.70,684.40 L343.41,684.40 L343.41,683.45 L346.13,683.45 L346.13,682.50 L348.84,682.50 L348.84,681.55 L351.56,681.55 L351.56,680.60 L354.27,680.60 L354.27,679.95 L356.99,679.95 L356.99,679.30 L359.70,679.30 L359.70,678.65 L362.42,678.65 L362.42,678.00 L365.13,678.00 L365.13,677.35 L367.85,677.35 L367.85,676.70 L370.56,676.70 L370.56,675.42 L373.28,675.42 L373.28,674.13 L375.99,674.13 L375.99,672.85 L378.71,672.85 L378.71,671.57 L381.42,671.57 L381.42,670.28 L384.14,670.28 L384.14,669.00 L386.85,669.00 L386.85,667.65 L389.57,667.65 L389.57,666.30 L392.28,666.30 L392.28,664.05 L395.00,664.05 L395.00,661.80 L397.71,661.80 L397.71,659.45 L400.43,659.45 L400.43,657.10 L403.14,657.10 L403.14,655.95 L405.86,655.95 L405.86,654.80 L408.57,654.80 L408.57,654.00 L411.29,654.00 L411.29,653.20 L414.00,653.20 L414.00,652.05 L416.72,652.05 L416.72,650.90 L419.43,650.90 L419.43,649.75 L422.15,649.75 L422.15,648.60 L424.86,648.60 L424.86,647.10 L427.58,647.10 L427.58,645.60 L430.29,645.60 L430.29,642.70 L433.01,642.70 L433.01,639.80 L435.72,639.80 L435.72,638.65 L438.44,638.65 L438.44,637.50 L441.15,637.50 L441.15,636.35 L443.87,636.35 L443.87,635.20 L446.58,635.20 L446.58,631.50 L449.30,631.50 L449.30,627.80 L452.01,627.80 L452.01,624.55 L454.73,624.55 L454.73,621.30 L457.44,621.30 L457.44,618.45 L460.16,618.45 L460.16,615.60 L462.87,615.60 L462.87,613.70 L465.59,613.70 L465.59,611.80 L468.30,611.80 L468.30,611.80 L471.02,611.80 L471.02,611.80 L473.73,611.80 L473.73,611.80 L476.45,611.80 L476.45,611.80 L479.16,611.80 L479.16,611.80 L479.71,611.80 L479.71,604.00 L481.88,604.00 L481.88,604.00 L484.59,604.00 L484.59,604.00 L487.31,604.00 L487.31,604.00 L490.02,604.00 L490.02,604.00 L492.74,604.00 L492.74,604.00 L495.45,604.00 L495.45,604.00 L498.17,604.00 L498.17,604.00 L499.80,604.00 L499.80,590.90" fill="none" stroke="#2a4682" stroke-width="1.4" stroke-linejoin="miter"/>
<path d="M69.20,704.40 L74.63,704.40 L74.63,704.40 L80.06,704.40 L80.06,704.40 L85.49,704.40 L85.49,704.40 L90.92,704.40 L90.92,704.38 L96.35,704.38 L96.35,704.35 L101.78,704.35 L101.78,704.32 L107.21,704.32 L107.21,704.30 L112.64,704.30 L112.64,704.27 L118.07,704.27 L118.07,704.25 L123.50,704.25 L123.50,704.22 L128.93,704.22 L128.93,704.20 L134.36,704.20 L134.36,704.17 L139.79,704.17 L139.79,704.15 L145.22,704.15 L145.22,704.12 L150.65,704.12 L150.65,704.10 L156.08,704.10 L156.08,703.94 L161.51,703.94 L161.51,703.78 L166.94,703.78 L166.94,703.62 L172.37,703.62 L172.37,703.46 L177.80,703.46 L177.80,703.30 L183.23,703.30 L183.23,703.04 L188.66,703.04 L188.66,702.78 L194.09,702.78 L194.09,702.52 L199.52,702.52 L199.52,702.26 L204.95,702.26 L204.95,702.00 L210.38,702.00 L210.38,701.74 L215.81,701.74 L215.81,701.48 L221.24,701.48 L221.24,701.22 L226.67,701.22 L226.67,700.96 L232.10,700.96 L232.10,700.70 L237.53,700.70 L237.53,700.06 L242.96,700.06 L242.96,699.42 L248.39,699.42 L248.39,698.78 L253.82,698.78 L253.82,698.14 L259.25,698.14 L259.25,697.50 L264.68,697.50 L264.68,696.42 L270.11,696.42 L270.11,695.34 L275.54,695.34 L275.54,694.26 L280.97,694.26 L280.97,693.18 L286.40,693.18 L286.40,692.10 L291.83,692.10 L291.83,690.95 L297.26,690.95 L297.26,689.80 L302.69,689.80 L302.69,688.57 L308.12,688.57 L308.12,687.33 L313.55,687.33 L313.55,686.10 L318.98,686.10 L318.98,684.80 L324.41,684.80 L324.41,683.50 L329.84,683.50 L329.84,682.20 L335.27,682.20 L335.27,680.90 L340.70,680.90 L340.70,679.60 L346.13,679.60 L346.13,679.00 L351.56,679.00 L351.56,678.40 L356.99,678.40 L356.99,678.41 L362.42,678.41 L362.42,678.41 L367.85,678.41 L367.85,678.42 L373.28,678.42 L373.28,678.43 L378.71,678.43 L378.71,678.44 L384.14,678.44 L384.14,678.44 L389.57,678.44 L389.57,678.45 L395.00,678.45 L395.00,678.46 L400.43,678.46 L400.43,678.47 L405.86,678.47 L405.86,678.47 L411.29,678.47 L411.29,678.48 L416.72,678.48 L416.72,678.49 L422.15,678.49 L422.15,678.49 L427.58,678.49 L427.58,678.50 L433.01,678.50 L433.01,678.51 L438.44,678.51 L438.44,678.52 L443.87,678.52 L443.87,678.52 L449.30,678.52 L449.30,678.53 L454.73,678.53 L454.73,678.54 L460.16,678.54 L460.16,678.55 L465.59,678.55 L465.59,678.55 L471.02,678.55 L471.02,678.56 L476.45,678.56 L476.45,678.57 L481.88,678.57 L481.88,678.58 L487.31,678.58 L487.31,678.58 L492.74,678.58 L492.74,678.59 L498.17,678.59 L498.17,678.60 L500.34,678.60" fill="none" stroke="#c8187f" stroke-width="1.4" stroke-linejoin="miter"/>
<path d="M69.20,704.40 L74.63,704.40 L74.63,704.40 L80.06,704.40 L80.06,704.40 L85.49,704.40 L85.49,704.40 L90.92,704.40 L90.92,704.10 L96.35,704.10 L96.35,703.80 L101.78,703.80 L101.78,703.64 L107.21,703.64 L107.21,703.48 L112.64,703.48 L112.64,703.32 L118.07,703.32 L118.07,703.16 L123.50,703.16 L123.50,703.00 L128.93,703.00 L128.93,702.86 L134.36,702.86 L134.36,702.72 L139.79,702.72 L139.79,702.58 L145.22,702.58 L145.22,702.44 L150.65,702.44 L150.65,702.30 L156.08,702.30 L156.08,701.88 L161.51,701.88 L161.51,701.46 L166.94,701.46 L166.94,701.04 L172.37,701.04 L172.37,700.62 L177.80,700.62 L177.80,700.20 L183.23,700.20 L183.23,699.88 L188.66,699.88 L188.66,699.56 L194.09,699.56 L194.09,699.24 L199.52,699.24 L199.52,698.92 L204.95,698.92 L204.95,698.60 L210.38,698.60 L210.38,698.40 L215.81,698.40 L215.81,698.20 L221.24,698.20 L221.24,698.00 L226.67,698.00 L226.67,697.80 L232.10,697.80 L232.10,697.60 L237.53,697.60 L237.53,697.34 L242.96,697.34 L242.96,697.08 L248.39,697.08 L248.39,696.82 L253.82,696.82 L253.82,696.56 L259.25,696.56 L259.25,696.30 L264.68,696.30 L264.68,695.96 L270.11,695.96 L270.11,695.62 L275.54,695.62 L275.54,695.28 L280.97,695.28 L280.97,694.94 L286.40,694.94 L286.40,694.60 L291.83,694.60 L291.83,694.56 L297.26,694.56 L297.26,694.52 L302.69,694.52 L302.69,694.48 L308.12,694.48 L308.12,694.44 L313.55,694.44 L313.55,694.40 L318.98,694.40 L318.98,693.97 L324.41,693.97 L324.41,693.53 L329.84,693.53 L329.84,693.10 L335.27,693.10 L335.27,692.60 L340.70,692.60 L340.70,692.10 L346.13,692.10 L346.13,691.60 L351.56,691.60 L351.56,691.10 L356.99,691.10 L356.99,690.17 L362.42,690.17 L362.42,689.23 L367.85,689.23 L367.85,688.30 L373.28,688.30 L373.28,687.40 L378.71,687.40 L378.71,686.50 L384.14,686.50 L384.14,685.60 L389.57,685.60 L389.57,685.10 L395.00,685.10 L395.00,684.60 L400.43,684.60 L400.43,684.10 L405.86,684.10 L405.86,683.54 L411.29,683.54 L411.29,682.98 L416.72,682.98 L416.72,682.42 L422.15,682.42 L422.15,681.86 L427.58,681.86 L427.58,681.30 L433.01,681.30 L433.01,680.17 L438.44,680.17 L438.44,679.03 L443.87,679.03 L443.87,677.90 L449.30,677.90 L449.30,674.00 L454.73,674.00 L454.73,674.00 L460.16,674.00 L460.16,674.00 L465.59,674.00 L465.59,674.00 L471.02,674.00 L471.02,674.00 L476.45,674.00 L476.45,674.00 L481.88,674.00 L481.88,674.00 L487.31,674.00 L487.31,674.00 L492.74,674.00 L492.74,674.00 L498.17,674.00 L498.17,674.00 L500.34,674.00" fill="none" stroke="#626878" stroke-width="1.4" stroke-linejoin="miter"/>
<path d="M69.20,704.40 L74.63,704.40 L74.63,704.40 L80.06,704.40 L80.06,704.40 L85.49,704.40 L85.49,704.40 L90.92,704.40 L90.92,704.35 L96.35,704.35 L96.35,704.30 L101.78,704.30 L101.78,704.25 L107.21,704.25 L107.21,704.20 L112.64,704.20 L112.64,704.15 L118.07,704.15 L118.07,704.10 L123.50,704.10 L123.50,704.05 L128.93,704.05 L128.93,704.00 L134.36,704.00 L134.36,703.95 L139.79,703.95 L139.79,703.90 L145.22,703.90 L145.22,703.85 L150.65,703.85 L150.65,703.80 L156.08,703.80 L156.08,703.75 L161.51,703.75 L161.51,703.70 L166.94,703.70 L166.94,703.65 L172.37,703.65 L172.37,703.60 L177.80,703.60 L177.80,703.55 L183.23,703.55 L183.23,703.50 L188.66,703.50 L188.66,703.45 L194.09,703.45 L194.09,703.40 L199.52,703.40 L199.52,703.35 L204.95,703.35 L204.95,703.30 L210.38,703.30 L210.38,703.10 L215.81,703.10 L215.81,702.90 L221.24,702.90 L221.24,702.70 L226.67,702.70 L226.67,702.50 L232.10,702.50 L232.10,702.30 L237.53,702.30 L237.53,702.04 L242.96,702.04 L242.96,701.78 L248.39,701.78 L248.39,701.52 L253.82,701.52 L253.82,701.26 L259.25,701.26 L259.25,701.00 L264.68,701.00 L264.68,700.80 L270.11,700.80 L270.11,700.60 L275.54,700.60 L275.54,700.40 L280.97,700.40 L280.97,700.20 L286.40,700.20 L286.40,700.00 L291.83,700.00 L291.83,699.62 L297.26,699.62 L297.26,699.24 L302.69,699.24 L302.69,698.86 L308.12,698.86 L308.12,698.48 L313.55,698.48 L313.55,698.10 L318.98,698.10 L318.98,697.60 L324.41,697.60 L324.41,697.10 L329.84,697.10 L329.84,696.60 L335.27,696.60 L335.27,696.10 L340.70,696.10 L340.70,695.60 L346.13,695.60 L346.13,694.90 L351.56,694.90 L351.56,694.20 L356.99,694.20 L356.99,693.50 L362.42,693.50 L362.42,692.80 L367.85,692.80 L367.85,692.10 L373.28,692.10 L373.28,691.27 L378.71,691.27 L378.71,690.43 L384.14,690.43 L384.14,689.60 L389.57,689.60 L389.57,688.80 L395.00,688.80 L395.00,688.00 L400.43,688.00 L400.43,686.00 L405.86,686.00 L405.86,685.20 L411.29,685.20 L411.29,685.15 L416.72,685.15 L416.72,685.10 L422.15,685.10 L422.15,685.05 L427.58,685.05 L427.58,685.00 L433.01,685.00 L433.01,684.00 L438.44,684.00 L438.44,683.00 L443.87,683.00 L443.87,683.00 L449.30,683.00 L449.30,683.00 L454.73,683.00 L454.73,683.00 L460.16,683.00 L460.16,683.00 L465.59,683.00 L465.59,683.00 L471.02,683.00 L471.02,683.00 L476.45,683.00 L476.45,683.00 L481.88,683.00 L481.88,683.00 L487.31,683.00 L487.31,683.00 L492.74,683.00 L492.74,683.00 L498.17,683.00 L498.17,683.00 L500.34,683.00" fill="none" stroke="#de8f1e" stroke-width="1.4" stroke-linejoin="miter"/>
<path d="M69.20,704.40 L74.63,704.40 L74.63,704.40 L80.06,704.40 L80.06,704.40 L85.49,704.40 L85.49,704.40 L90.92,704.40 L90.92,704.35 L96.35,704.35 L96.35,704.30 L101.78,704.30 L101.78,704.24 L107.21,704.24 L107.21,704.19 L112.64,704.19 L112.64,704.14 L118.07,704.14 L118.07,704.09 L123.50,704.09 L123.50,704.04 L128.93,704.04 L128.93,703.99 L134.36,703.99 L134.36,703.93 L139.79,703.93 L139.79,703.88 L145.22,703.88 L145.22,703.83 L150.65,703.83 L150.65,703.78 L156.08,703.78 L156.08,703.73 L161.51,703.73 L161.51,703.67 L166.94,703.67 L166.94,703.62 L172.37,703.62 L172.37,703.57 L177.80,703.57 L177.80,703.52 L183.23,703.52 L183.23,703.47 L188.66,703.47 L188.66,703.41 L194.09,703.41 L194.09,703.36 L199.52,703.36 L199.52,703.31 L204.95,703.31 L204.95,703.26 L210.38,703.26 L210.38,703.21 L215.81,703.21 L215.81,703.16 L221.24,703.16 L221.24,703.10 L226.67,703.10 L226.67,703.05 L232.10,703.05 L232.10,703.00 L237.53,703.00 L237.53,702.85 L242.96,702.85 L242.96,702.70 L248.39,702.70 L248.39,702.55 L253.82,702.55 L253.82,702.40 L259.25,702.40 L259.25,702.25 L264.68,702.25 L264.68,702.10 L270.11,702.10 L270.11,701.95 L275.54,701.95 L275.54,701.80 L280.97,701.80 L280.97,701.65 L286.40,701.65 L286.40,701.50 L291.83,701.50 L291.83,701.25 L297.26,701.25 L297.26,701.00 L302.69,701.00 L302.69,700.75 L308.12,700.75 L308.12,700.50 L313.55,700.50 L313.55,700.25 L318.98,700.25 L318.98,700.00 L324.41,700.00 L324.41,699.75 L329.84,699.75 L329.84,699.50 L335.27,699.50 L335.27,699.25 L340.70,699.25 L340.70,699.00 L346.13,699.00 L346.13,698.00 L351.56,698.00 L351.56,697.00 L356.99,697.00 L356.99,697.00 L362.42,697.00 L362.42,697.00 L367.85,697.00 L367.85,697.00 L373.28,697.00 L373.28,697.00 L378.71,697.00 L378.71,697.00 L384.14,697.00 L384.14,697.00 L389.57,697.00 L389.57,697.00 L395.00,697.00 L395.00,697.00 L400.43,697.00 L400.43,697.00 L405.86,697.00 L405.86,697.00 L411.29,697.00 L411.29,697.00 L416.72,697.00 L416.72,697.00 L422.15,697.00 L422.15,697.00 L427.58,697.00 L427.58,697.00 L433.01,697.00 L433.01,697.00 L438.44,697.00 L438.44,697.00 L443.87,697.00 L443.87,697.00 L449.30,697.00 L449.30,697.00 L454.73,697.00 L454.73,697.00 L460.16,697.00 L460.16,697.00 L465.59,697.00 L465.59,697.00 L471.02,697.00 L471.02,697.00 L476.45,697.00 L476.45,697.00 L481.88,697.00 L481.88,697.00 L487.31,697.00 L487.31,697.00 L492.74,697.00 L492.74,697.00 L498.17,697.00 L498.17,697.00 L500.34,697.00" fill="none" stroke="#437060" stroke-width="1.4" stroke-linejoin="miter"/>
<path d="M69.20,704.40 L74.63,704.40 L74.63,704.40 L80.06,704.40 L80.06,704.40 L85.49,704.40 L85.49,704.40 L90.92,704.40 L90.92,704.37 L96.35,704.37 L96.35,704.34 L101.78,704.34 L101.78,704.31 L107.21,704.31 L107.21,704.28 L112.64,704.28 L112.64,704.25 L118.07,704.25 L118.07,704.22 L123.50,704.22 L123.50,704.19 L128.93,704.19 L128.93,704.16 L134.36,704.16 L134.36,704.13 L139.79,704.13 L139.79,704.10 L145.22,704.10 L145.22,704.07 L150.65,704.07 L150.65,704.04 L156.08,704.04 L156.08,704.01 L161.51,704.01 L161.51,703.99 L166.94,703.99 L166.94,703.96 L172.37,703.96 L172.37,703.93 L177.80,703.93 L177.80,703.90 L183.23,703.90 L183.23,703.87 L188.66,703.87 L188.66,703.84 L194.09,703.84 L194.09,703.81 L199.52,703.81 L199.52,703.78 L204.95,703.78 L204.95,703.75 L210.38,703.75 L210.38,703.72 L215.81,703.72 L215.81,703.69 L221.24,703.69 L221.24,703.66 L226.67,703.66 L226.67,703.63 L232.10,703.63 L232.10,703.60 L237.53,703.60 L237.53,703.52 L242.96,703.52 L242.96,703.44 L248.39,703.44 L248.39,703.36 L253.82,703.36 L253.82,703.28 L259.25,703.28 L259.25,703.20 L264.68,703.20 L264.68,703.12 L270.11,703.12 L270.11,703.04 L275.54,703.04 L275.54,702.96 L280.97,702.96 L280.97,702.88 L286.40,702.88 L286.40,702.80 L291.83,702.80 L291.83,702.76 L297.26,702.76 L297.26,702.73 L302.69,702.73 L302.69,702.69 L308.12,702.69 L308.12,702.66 L313.55,702.66 L313.55,702.62 L318.98,702.62 L318.98,702.59 L324.41,702.59 L324.41,702.55 L329.84,702.55 L329.84,702.52 L335.27,702.52 L335.27,702.48 L340.70,702.48 L340.70,702.45 L346.13,702.45 L346.13,702.41 L351.56,702.41 L351.56,702.38 L356.99,702.38 L356.99,702.34 L362.42,702.34 L362.42,702.31 L367.85,702.31 L367.85,702.27 L373.28,702.27 L373.28,702.24 L378.71,702.24 L378.71,702.20 L384.14,702.20 L384.14,702.17 L389.57,702.17 L389.57,702.13 L395.00,702.13 L395.00,702.10 L400.43,702.10 L400.43,702.14 L405.86,702.14 L405.86,702.18 L411.29,702.18 L411.29,702.21 L416.72,702.21 L416.72,702.25 L422.15,702.25 L422.15,702.29 L427.58,702.29 L427.58,702.33 L433.01,702.33 L433.01,702.36 L438.44,702.36 L438.44,700.20 L443.87,700.20 L443.87,700.20 L449.30,700.20 L449.30,700.20 L454.73,700.20 L454.73,700.20 L460.16,700.20 L460.16,700.20 L465.59,700.20 L465.59,700.20 L471.02,700.20 L471.02,700.20 L476.45,700.20 L476.45,700.20 L481.88,700.20 L481.88,700.20 L487.31,700.20 L487.31,700.20 L492.74,700.20 L492.74,700.20 L498.17,700.20 L498.17,700.20 L500.34,700.20" fill="none" stroke="#b51f48" stroke-width="1.4" stroke-linejoin="miter"/>
<path d="M69.20,704.40 L74.63,704.40 L74.63,704.40 L80.06,704.40 L80.06,704.40 L85.49,704.40 L85.49,704.40 L90.92,704.40 L90.92,703.80 L96.35,703.80 L96.35,703.20 L101.78,703.20 L101.78,702.84 L107.21,702.84 L107.21,702.48 L112.64,702.48 L112.64,702.12 L118.07,702.12 L118.07,701.76 L123.50,701.76 L123.50,701.40 L128.93,701.40 L128.93,700.83 L134.36,700.83 L134.36,700.27 L139.79,700.27 L139.79,699.70 L145.22,699.70 L145.22,699.05 L150.65,699.05 L150.65,698.40 L156.08,698.40 L156.08,697.60 L161.51,697.60 L161.51,696.80 L166.94,696.80 L166.94,696.00 L172.37,696.00 L172.37,695.20 L177.80,695.20 L177.80,694.40 L183.23,694.40 L183.23,693.48 L188.66,693.48 L188.66,692.56 L194.09,692.56 L194.09,691.64 L199.52,691.64 L199.52,690.72 L204.95,690.72 L204.95,689.80 L210.38,689.80 L210.38,688.96 L215.81,688.96 L215.81,688.12 L221.24,688.12 L221.24,687.28 L226.67,687.28 L226.67,686.44 L232.10,686.44 L232.10,685.60 L237.53,685.60 L237.53,684.34 L242.96,684.34 L242.96,683.08 L248.39,683.08 L248.39,681.82 L253.82,681.82 L253.82,680.56 L259.25,680.56 L259.25,679.30 L264.68,679.30 L264.68,677.44 L270.11,677.44 L270.11,675.58 L275.54,675.58 L275.54,673.72 L280.97,673.72 L280.97,671.86 L286.40,671.86 L286.40,670.00 L291.83,670.00 L291.83,667.76 L297.26,667.76 L297.26,665.52 L302.69,665.52 L302.69,663.02 L308.12,663.02 L308.12,660.26 L313.55,660.26 L313.55,657.50 L318.98,657.50 L318.98,655.42 L324.41,655.42 L324.41,653.34 L329.84,653.34 L329.84,651.26 L335.27,651.26 L335.27,649.18 L340.70,649.18 L340.70,647.10 L346.13,647.10 L346.13,644.56 L351.56,644.56 L351.56,642.02 L356.99,642.02 L356.99,639.48 L362.42,639.48 L362.42,636.94 L367.85,636.94 L367.85,634.40 L373.28,634.40 L373.28,632.17 L378.71,632.17 L378.71,629.95 L384.14,629.95 L384.14,627.73 L389.57,627.73 L389.57,625.50 L395.00,625.50 L395.00,620.90 L400.43,620.90 L400.43,617.90 L405.86,617.90 L405.86,615.60 L411.29,615.60 L411.29,614.90 L416.72,614.90 L416.72,614.00 L422.15,614.00 L422.15,610.30 L427.58,610.30 L427.58,605.20 L433.01,605.20 L433.01,601.50 L438.44,601.50 L438.44,597.30 L443.87,597.30 L443.87,593.80 L449.30,593.80 L449.30,593.80 L454.73,593.80 L454.73,590.40 L460.16,590.40 L460.16,590.40 L465.59,590.40 L465.59,590.40 L471.02,590.40 L471.02,583.60 L476.45,583.60 L476.45,583.60 L481.88,583.60 L481.88,583.60 L487.31,583.60 L487.31,573.80 L492.74,573.80 L492.74,573.80 L496.00,573.80" fill="none" stroke="#62a63e" stroke-width="1.4" stroke-linejoin="miter"/>
<path d="M69.20,704.40 L74.63,704.40 L74.63,704.40 L80.06,704.40 L80.06,704.40 L85.49,704.40 L85.49,704.40 L90.92,704.40 L90.92,704.34 L96.35,704.34 L96.35,704.28 L101.78,704.28 L101.78,704.22 L107.21,704.22 L107.21,704.16 L112.64,704.16 L112.64,704.10 L118.07,704.10 L118.07,704.04 L123.50,704.04 L123.50,703.99 L128.93,703.99 L128.93,703.93 L134.36,703.93 L134.36,703.87 L139.79,703.87 L139.79,703.81 L145.22,703.81 L145.22,703.75 L150.65,703.75 L150.65,703.69 L156.08,703.69 L156.08,703.63 L161.51,703.63 L161.51,703.57 L166.94,703.57 L166.94,703.51 L172.37,703.51 L172.37,703.45 L177.80,703.45 L177.80,703.39 L183.23,703.39 L183.23,703.33 L188.66,703.33 L188.66,703.27 L194.09,703.27 L194.09,703.21 L199.52,703.21 L199.52,703.16 L204.95,703.16 L204.95,703.10 L210.38,703.10 L210.38,703.04 L215.81,703.04 L215.81,702.98 L221.24,702.98 L221.24,702.92 L226.67,702.92 L226.67,702.86 L232.10,702.86 L232.10,702.80 L237.53,702.80 L237.53,702.68 L242.96,702.68 L242.96,702.56 L248.39,702.56 L248.39,702.44 L253.82,702.44 L253.82,702.32 L259.25,702.32 L259.25,702.20 L264.68,702.20 L264.68,702.08 L270.11,702.08 L270.11,701.96 L275.54,701.96 L275.54,701.84 L280.97,701.84 L280.97,701.72 L286.40,701.72 L286.40,701.60 L291.83,701.60 L291.83,701.42 L297.26,701.42 L297.26,701.24 L302.69,701.24 L302.69,701.06 L308.12,701.06 L308.12,700.88 L313.55,700.88 L313.55,700.70 L318.98,700.70 L318.98,700.52 L324.41,700.52 L324.41,700.34 L329.84,700.34 L329.84,700.16 L335.27,700.16 L335.27,699.98 L340.70,699.98 L340.70,699.80 L346.13,699.80 L346.13,699.75 L351.56,699.75 L351.56,699.70 L356.99,699.70 L356.99,699.65 L362.42,699.65 L362.42,699.60 L367.85,699.60 L367.85,699.55 L373.28,699.55 L373.28,699.50 L378.71,699.50 L378.71,699.45 L384.14,699.45 L384.14,699.40 L389.57,699.40 L389.57,699.35 L395.00,699.35 L395.00,699.30 L400.43,699.30 L400.43,698.97 L405.86,698.97 L405.86,698.63 L411.29,698.63 L411.29,698.30 L416.72,698.30 L416.72,697.50 L422.15,697.50 L422.15,696.25 L427.58,696.25 L427.58,695.00 L433.01,695.00 L433.01,695.00 L438.44,695.00 L438.44,695.00 L443.87,695.00 L443.87,695.00 L449.30,695.00 L449.30,695.00 L454.73,695.00 L454.73,695.00 L460.16,695.00 L460.16,695.00 L465.59,695.00 L465.59,695.00 L471.02,695.00 L471.02,695.00 L476.45,695.00 L476.45,695.00 L481.88,695.00 L481.88,695.00 L486.50,695.00 L486.50,681.30 L487.31,681.30 L487.31,681.30 L492.74,681.30 L492.74,681.30 L498.17,681.30 L498.17,681.30 L500.34,681.30" fill="none" stroke="#5e3876" stroke-width="1.4" stroke-linejoin="miter"/>
<text x="10" y="762" font-size="10.4" textLength="43.75" lengthAdjust="spacingAndGlyphs">Footnote:</text>
<text x="10" y="775" font-size="10.6" textLength="229.2" lengthAdjust="spacingAndGlyphs">*Menorrhagia includes female SCD patients only</text>
<rect x="0.8" y="0.8" width="518.4" height="786.4" fill="none" stroke="#000" stroke-width="1.6"/>
</svg>
</body></html>
